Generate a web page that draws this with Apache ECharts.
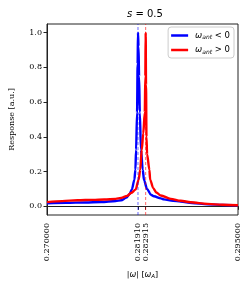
<!DOCTYPE html>
<html>
<head>
<meta charset="utf-8">
<script src="https://cdn.jsdelivr.net/npm/echarts@6/dist/echarts.min.js"></script>
<style>html,body{margin:0;padding:0;background:#fff;}#c{width:251px;height:290px;}</style>
</head>
<body>
<div id="c"></div>
<script>
const blueX = [0.2700,0.2725,0.2750,0.2771,0.2790,0.2797,0.2804,0.2808,0.2811,0.28144,0.28157,0.28166,0.28179,0.28186,0.28191,0.28198,0.28205,0.28215,0.28230,0.28253,0.2827,0.2831,0.2836,0.2840,0.2849,0.2853,0.2865,0.2875,0.2890,0.2910,0.2930,0.2950];
const blueY = [0.018,0.020,0.022,0.025,0.031,0.035,0.050,0.070,0.096,0.154,0.211,0.326,0.54,0.82,1.00,0.92,0.75,0.54,0.326,0.211,0.15,0.10,0.067,0.058,0.046,0.040,0.032,0.028,0.019,0.012,0.008,0.006];
const redX = [0.2700,0.2720,0.2740,0.2760,0.2775,0.2790,0.2797,0.2805,0.2810,0.2816,0.2820,0.2822,0.2824,0.2826,0.2828,0.28287,0.282915,0.28296,0.28302,0.2831,0.2834,0.2835,0.2839,0.2843,0.2849,0.2862,0.2875,0.2888,0.2910,0.2930,0.2950];
const redY = [0.024,0.030,0.035,0.037,0.039,0.043,0.048,0.060,0.077,0.096,0.154,0.211,0.326,0.42,0.54,0.75,1.00,0.70,0.40,0.30,0.211,0.154,0.105,0.080,0.062,0.043,0.032,0.023,0.014,0.009,0.006];
const peakBlue = 0.281910;
const peakRed = 0.282915;
const xTicks = [0.270000, peakBlue, peakRed, 0.295000];
const yTicks = [0.0, 0.2, 0.4, 0.6, 0.8, 1.0];
const yRange = [-0.05, 1.05];
const seriesNames = ['blue', 'red'];

const serif = 'DejaVu Serif';
const zip = (xs, ys) => xs.map((x, i) => [x, ys[i]]);
const chart = echarts.init(document.getElementById('c'), null, {renderer: 'canvas'});
const mathRich = {
  i: {fontFamily: 'DejaVu Sans', fontStyle: 'italic', fontSize: 8.5, color: '#000'},
  sub: {fontFamily: 'DejaVu Sans', fontStyle: 'italic', fontSize: 6, color: '#000', padding: [4, 0, 0, 0]},
  t: {fontFamily: 'DejaVu Sans', fontSize: 8.5, color: '#000'}
};
const xRich = {
  i: {fontFamily: 'DejaVu Sans', fontStyle: 'italic', fontSize: 8, color: '#000'},
  sub: {fontFamily: 'DejaVu Sans', fontStyle: 'italic', fontSize: 5.5, color: '#000', padding: [4, 0, 0, 0]},
  t: {fontFamily: 'DejaVu Serif', fontSize: 8, color: '#000'}
};
function vline(x, color) {
  return {
    type: 'line', data: [[x, yRange[0]], [x, yRange[1]]], showSymbol: false, silent: true,
    lineStyle: {color: color, type: [3, 2], width: 0.7, opacity: 0.85}, z: 4, legendHoverLink: false
  };
}
chart.setOption({
  animation: false,
  backgroundColor: '#fff',
  title: {
    text: '{i|s}{t| = 0.5}',
    left: 122, top: 4,
    textStyle: {fontWeight: 'normal', rich: {
      i: {fontFamily: 'DejaVu Sans', fontStyle: 'italic', fontSize: 10, color: '#000', fontWeight: 'normal'},
      t: {fontFamily: 'DejaVu Sans', fontSize: 10, color: '#000', fontWeight: 'normal'}
    }}
  },
  grid: {left: 45, right: 13, top: 24, bottom: 75, show: true, borderColor: '#222', borderWidth: 1, containLabel: false},
  legend: {
    orient: 'vertical', right: 17, top: 27,
    backgroundColor: '#fff', borderColor: '#ccc', borderWidth: 1, borderRadius: 3,
    padding: [4, 4, 3, 3], itemGap: 5, itemWidth: 17, itemHeight: 2.5,
    icon: 'rect',
    data: seriesNames,
    formatter: n => n === 'blue' ? '{i|ω}{sub|ant}{t| < 0}' : '{i|ω}{sub|ant}{t| > 0}',
    textStyle: {rich: mathRich, padding: [0, 0, 0, 2]}
  },
  xAxis: {
    type: 'value', min: 0.27, max: 0.295,
    name: '{t||}{i|ω}{t|| [}{i|ω}{sub|A}{t|]}',
    nameLocation: 'middle', nameGap: 55,
    nameTextStyle: {rich: xRich},
    splitLine: {show: false},
    axisLine: {show: true, lineStyle: {color: '#222', width: 1}},
    axisTick: {show: true, inside: false, length: 3.5, lineStyle: {color: '#222'}, customValues: xTicks},
    axisLabel: {customValues: xTicks, rotate: 90, fontFamily: serif, fontSize: 8, color: '#000', margin: 8,
      formatter: v => v.toFixed(6)}
  },
  yAxis: {
    type: 'value', min: yRange[0], max: yRange[1],
    name: 'Response [a.u.]', nameLocation: 'middle', nameGap: 31,
    nameTextStyle: {fontFamily: serif, fontSize: 8, color: '#000'},
    splitLine: {show: false},
    axisLine: {show: true, lineStyle: {color: '#222', width: 1}},
    axisTick: {show: true, inside: false, length: 3.5, lineStyle: {color: '#222'}, customValues: yTicks},
    axisLabel: {customValues: yTicks, fontFamily: serif, fontSize: 8, color: '#000', margin: 5,
      formatter: v => v.toFixed(1)}
  },
  series: [
    {
      name: 'blue', type: 'line', data: zip(blueX, blueY), showSymbol: false,
      smooth: 0.3, smoothMonotone: 'x',
      color: '#0000ff', lineStyle: {color: '#0000ff', width: 2.4}, z: 2
    },
    {
      name: 'red', type: 'line', data: zip(redX, redY), showSymbol: false,
      smooth: 0.3, smoothMonotone: 'x',
      color: '#ff0000', lineStyle: {color: '#ff0000', width: 2.4}, z: 3
    },
    vline(peakBlue, '#0000ff'),
    vline(peakRed, '#ff0000')
  ]
});
</script>
</body>
</html>
